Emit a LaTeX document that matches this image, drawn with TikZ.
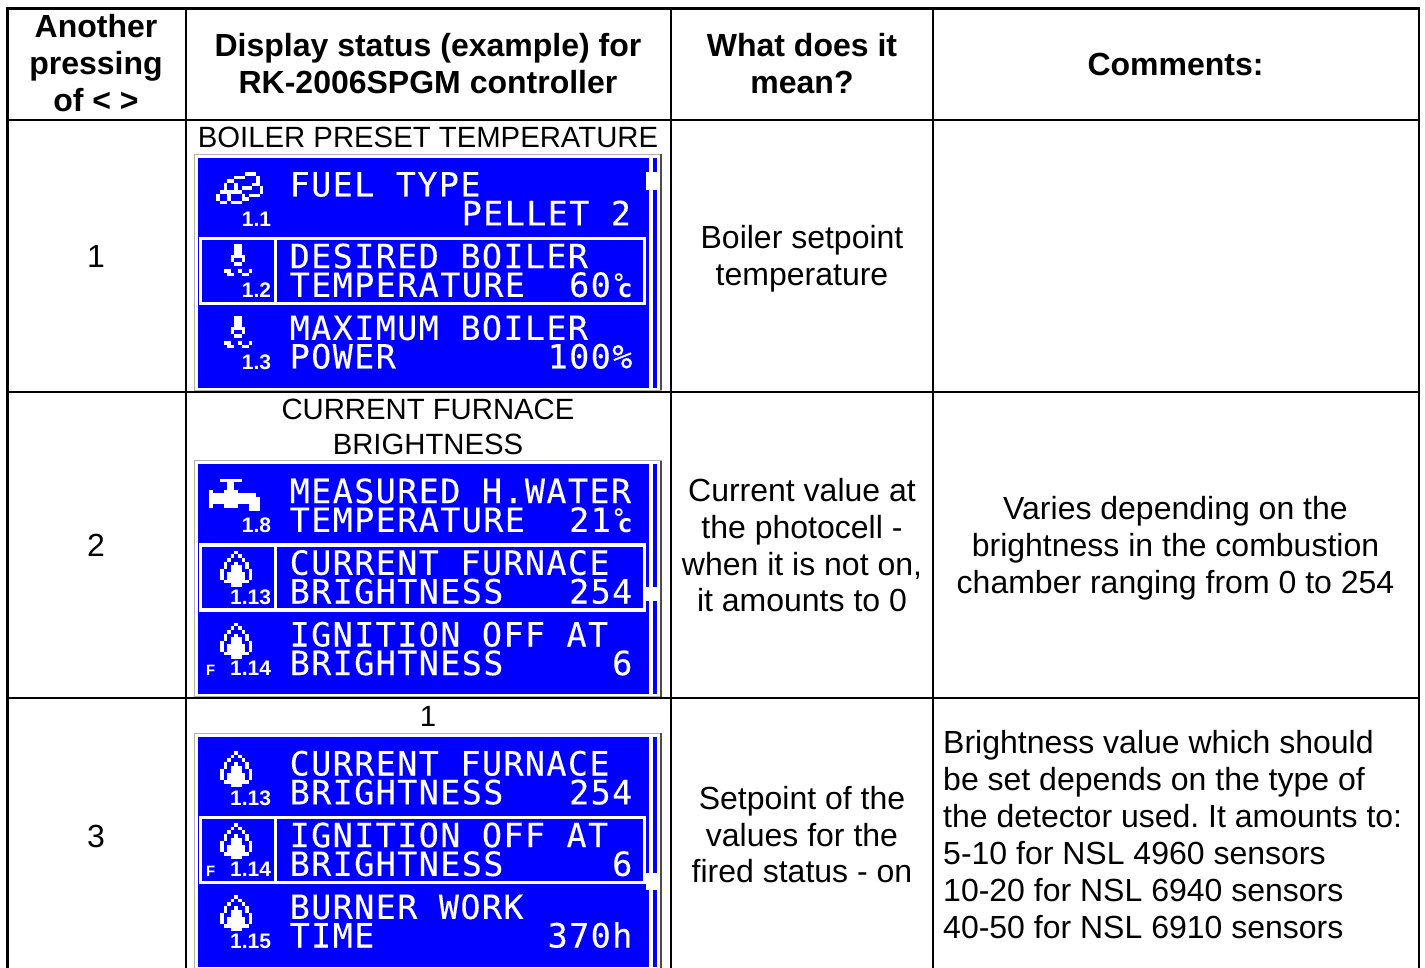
\documentclass[tikz,border=0pt]{standalone}
\usepackage{fontspec}
\setmainfont{Liberation Sans}
\newfontfamily\lcdfont[LetterSpace=4.2,FakeBold=0.15]{DejaVu Sans Mono}
\newfontfamily\lcdplain{DejaVu Sans Mono}
\newcount\lcdn
\definecolor{lcdblue}{HTML}{0000FF}
\definecolor{framegray}{HTML}{B0B0B0}
\tikzset{
  rule/.style={line width=2.5pt,black,line cap=butt},
  bodytext/.style={anchor=base,inner sep=0pt,font=\fontsize{32}{37}\selectfont},
  headtext/.style={anchor=base,inner sep=0pt,font=\fontsize{32}{37}\selectfont\bfseries},
  captext/.style={anchor=base,inner sep=0pt,font=\fontsize{29.3}{36}\selectfont},
  lefttext/.style={anchor=base west,inner sep=0pt,font=\fontsize{32}{37}\selectfont},
  lcdtext/.style={anchor=base west,inner sep=0pt,text=white,font=\lcdfont\fontsize{33.4}{34}\selectfont},
  lcdsmall/.style={anchor=base east,inner sep=0pt,text=white,font=\fontsize{21}{21}\selectfont\bfseries},
  lcdtiny/.style={anchor=base west,inner sep=0pt,text=white,font=\fontsize{15}{15}\selectfont\bfseries},
  lcdunit/.style={anchor=base west,inner sep=0pt,text=white,font=\lcdplain\bfseries\fontsize{25}{25}\selectfont},
  lcddeg/.style={anchor=base west,inner sep=0pt,text=white,font=\lcdplain\bfseries\fontsize{24}{24}\selectfont},
}
% text on the 16-column character grid of the display
\newcommand\lcdline[3]{\global\advance\lcdn by 1
  \node[lcdtext] (lcd\the\lcdn) at ({91.2+#1*21.5},{#2-0.8}) {#3};}
\newcommand\lcdnum[2]{\global\advance\lcdn by 1
  \node[lcdsmall] (lcd\the\lcdn) at (73,#1) {#2};}
% pixel runs: row/first/last on the 3.6 px display grid
\newcommand\pixruns[3]{\foreach \r/\a/\b in {#3}
  \fill[white] ({(#1+\a)*3.6},{(#2+\r)*3.6}) rectangle ({(#1+\b+1)*3.6},{(#2+\r+1)*3.6});}
\newcommand\flame[1]{\pixruns{6}{#1}{0/4/4,1/3/3,1/5/5,2/2/2,2/6/6,3/1/1,3/4/4,3/7/7,4/1/1,4/3/5,4/7/7,5/0/0,5/3/5,5/8/8,6/0/0,6/2/6,6/8/8,7/0/0,7/2/6,7/8/8,8/1/1,8/2/6,8/7/7,9/3/5}}
\newcommand\boilericon[1]{\pixruns{7}{#1}{0/3/4,1/3/4,2/3/4,3/2/5,4/2/2,4/5/5,5/3/4,7/0/1,7/4/4,7/7/7,8/1/2,8/5/6}}
\newcommand\coalicon[1]{\pixruns{5}{#1}{0/8/10,1/5/7,1/11/11,2/3/4,2/11/11,3/2/2,3/5/5,3/10/11,4/2/2,4/5/5,4/7/9,4/12/12,5/1/6,5/12/12,6/0/0,6/3/3,6/7/7,6/9/11,7/0/0,7/3/3,7/7/8,8/1/2,8/4/6}}
\newcommand\tapicon[1]{\pixruns{0}{#1}{0/6/11,1/8/9,2/8/9,3/3/3,3/7/10,4/3/15,5/3/16,6/3/16,7/3/3,7/7/10,7/14/16,8/14/16}}
% one display: blue field, selected middle row, scroll bar, frame
\newcommand\lcdframe[2]{%
  \draw[framegray,line width=1pt] (-3.8,-3.6) rectangle (462.7,232.5);
  \draw[black!70,line width=1.2pt] (462.7,-3.6) -- (462.7,232.5);
  \fill[lcdblue] (0,0) rectangle (451,230);
  \fill[lcdblue] (455,0) rectangle (458.4,230);
  \fill[white] (0.4,79) rectangle (447.7,147.3);
  \fill[lcdblue] (3.7,82.3) rectangle (75.4,144);
  \fill[lcdblue] (78.7,82.3) rectangle (444.4,144);
  \fill[white] (447.7,#2) rectangle (459,{#2+#1});
}
\begin{document}
\frenchspacing
\begin{tikzpicture}[x=1pt,y=-1pt]
\useasboundingbox (0,0) rectangle (1425,968);
\fill[white] (0,0) rectangle (1425,968);
% table rules
\coordinate (tl) at (7.7,8.3);
\coordinate (tr) at (1419,8.3);
\draw[rule] (7.7,968) -- (tl) -- (tr) -- (1419,968);
\foreach \x in {186,671,933} \draw[rule] (\x,8.3) -- (\x,968);
\foreach \y in {119.8,392,698} \draw[rule] (7.7,\y) -- (1419,\y);
% header
\node[headtext] (h1a) at (96,38) {Another};
\node[headtext] (h1b) at (96,75) {pressing};
\node[headtext] (h1c) at (96,112) {of < >};
\node[headtext] (h2a) at (428,57) {Display status (example) for};
\node[headtext] (h2b) at (428,94) {RK-2006SPGM controller};
\node[headtext] (h3a) at (802,57) {What does it};
\node[headtext] (h3b) at (802,94) {mean?};
\node[headtext] (h4) at (1175.5,76) {Comments:};
% first column
\node[bodytext] (n1) at (96,268) {1};
\node[bodytext] (n2) at (96,556) {2};
\node[bodytext] (n3) at (96,847) {3};
% captions
\node[captext] (c1) at (428,147.3) {BOILER PRESET TEMPERATURE};
\node[captext] (c2a) at (428,419.5) {CURRENT FURNACE};
\node[captext] (c2b) at (428,454.5) {BRIGHTNESS};
\node[captext] (c3) at (428,726.5) {1};
% meaning
\node[bodytext] (m1a) at (802,249) {Boiler setpoint};
\node[bodytext] (m1b) at (802,286) {temperature};
\node[bodytext] (m2a) at (802,501) {Current value at};
\node[bodytext] (m2b) at (802,538) {the photocell -};
\node[bodytext] (m2c) at (802,575) {when it is not on,};
\node[bodytext] (m2d) at (802,611) {it amounts to 0};
\node[bodytext] (m3a) at (802,809) {Setpoint of the};
\node[bodytext] (m3b) at (802,846) {values for the};
\node[bodytext] (m3c) at (802,882) {fired status - on};
% comments
\node[bodytext] (k2a) at (1175.5,519) {Varies depending on the};
\node[bodytext] (k2b) at (1175.5,556) {brightness in the combustion};
\node[bodytext] (k2c) at (1175.5,593) {chamber ranging from 0 to 254};
\node[lefttext] (k3a) at (943,753) {Brightness value which should};
\node[lefttext] (k3b) at (943,790) {be set depends on the type of};
\node[lefttext] (k3c) at (943,827) {the detector used. It amounts to:};
\node[lefttext] (k3d) at (943,864) {5-10 for NSL 4960 sensors};
\node[lefttext] (k3e) at (943,901) {10-20 for NSL 6940 sensors};
\node[lefttext] (k3f) at (943,938) {40-50 for NSL 6910 sensors};
% display 1
\begin{scope}[shift={(198.3,157.7)}]
  \lcdframe{18.3}{14}
  \coalicon{4}
  \boilericon{24}
  \boilericon{44}
  \lcdnum{68.4}{1.1}
  \lcdnum{140}{1.2}
  \lcdnum{211.6}{1.3}
  \lcdline{0}{39.6}{FUEL TYPE}
  \lcdline{8}{68.4}{PELLET 2}
  \lcdline{0}{111.3}{DESIRED BOILER}
  \lcdline{0}{140}{TEMPERATURE}
  \lcdline{13}{140}{60}
  \node[lcdunit] (d1c) at (419,140) {c};
  \node[lcddeg] (d1d) at (413,134) {°};
  \lcdline{0}{183}{MAXIMUM BOILER}
  \lcdline{0}{211.6}{POWER}
  \lcdline{12}{211.6}{100\%}
\end{scope}
% display 2
\begin{scope}[shift={(198.3,464.3)}]
  \lcdframe{14}{122.4}
  \tapicon{4}
  \flame{24}
  \flame{44}
  \lcdnum{68.4}{1.8}
  \lcdnum{140}{1.13}
  \lcdnum{211.6}{1.14}
  \node[lcdtiny] (f2) at (7.6,211.6) {F};
  \lcdline{0}{39.6}{MEASURED H.WATER}
  \lcdline{0}{68.4}{TEMPERATURE}
  \lcdline{13}{68.4}{21}
  \node[lcdunit] (d2c) at (419,68.4) {c};
  \node[lcddeg] (d2d) at (413,62.4) {°};
  \lcdline{0}{111.3}{CURRENT FURNACE}
  \lcdline{0}{140}{BRIGHTNESS}
  \lcdline{13}{140}{254}
  \lcdline{0}{183}{IGNITION OFF AT}
  \lcdline{0}{211.6}{BRIGHTNESS}
  \lcdline{15}{211.6}{6}
\end{scope}
% display 3
\begin{scope}[shift={(198.3,736.7)}]
  \lcdframe{17}{136.3}
  \flame{4}
  \flame{24}
  \flame{44}
  \lcdnum{68.4}{1.13}
  \lcdnum{140}{1.14}
  \lcdnum{211.6}{1.15}
  \node[lcdtiny] (f3) at (7.6,140) {F};
  \lcdline{0}{39.6}{CURRENT FURNACE}
  \lcdline{0}{68.4}{BRIGHTNESS}
  \lcdline{13}{68.4}{254}
  \lcdline{0}{111.3}{IGNITION OFF AT}
  \lcdline{0}{140}{BRIGHTNESS}
  \lcdline{15}{140}{6}
  \lcdline{0}{183}{BURNER WORK}
  \lcdline{0}{211.6}{TIME}
  \lcdline{12}{211.6}{370h}
\end{scope}
\end{tikzpicture}
\end{document}
